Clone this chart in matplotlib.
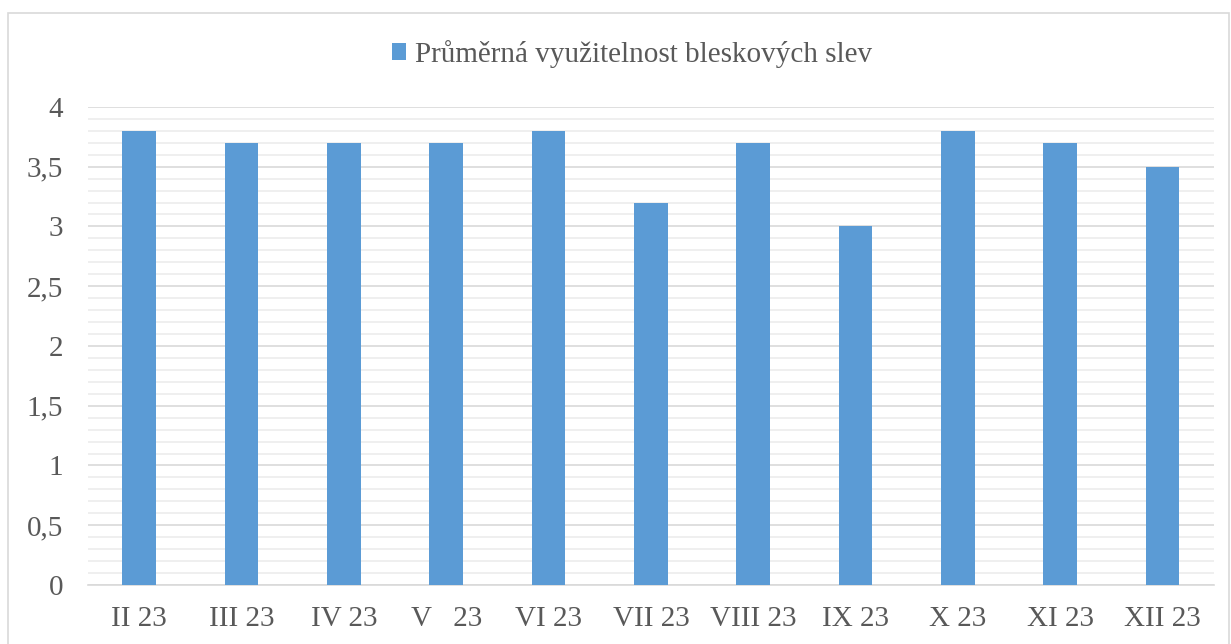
import matplotlib.pyplot as plt
from matplotlib.patches import Rectangle
from matplotlib.ticker import MultipleLocator, FuncFormatter

months = ['II 23', 'III 23', 'IV 23', 'V   23', 'VI 23', 'VII 23', 'VIII 23',
          'IX 23', 'X 23', 'XI 23', 'XII 23']
usage = [3.8, 3.7, 3.7, 3.7, 3.8, 3.2, 3.7, 3.0, 3.8, 3.7, 3.5]
series_name = 'Průměrná využitelnost bleskových slev'

plt.rcParams['font.family'] = ['Liberation Serif', 'DejaVu Serif']
text_grey = '#595959'
bar_blue = '#5b9bd5'

fig = plt.figure(figsize=(12.31, 6.44), dpi=100)
ax = fig.add_axes([0.0715, 0.0916, 0.9145, 0.7424])

# outer chart frame (bottom edge is off the picture)
fig.patches.append(Rectangle((8 / 1231, -0.05), (1229 - 8) / 1231, 1.05 - 13 / 644,
                             transform=fig.transFigure, fill=False,
                             edgecolor='#d9d9d9', linewidth=1.2))

x = range(len(months))
ax.bar(x, usage, width=0.33, color=bar_blue, label=series_name, zorder=3)

ax.set_xlim(-0.5, len(months) - 0.5)
ax.set_ylim(0, 4)
ax.yaxis.set_major_locator(MultipleLocator(0.5))
ax.yaxis.set_minor_locator(MultipleLocator(0.1))
ax.yaxis.set_major_formatter(FuncFormatter(lambda v, p: f'{v:g}'.replace('.', ',')))
ax.grid(axis='y', which='major', color='#d9d9d9', linewidth=1.2, zorder=0)
ax.grid(axis='y', which='minor', color='#ececec', linewidth=1.2, zorder=0)

ax.set_xticks(list(x))
ax.set_xticklabels(months)
ax.tick_params(axis='both', which='both', length=0, labelsize=21, colors=text_grey)
ax.tick_params(axis='x', pad=15)
ax.tick_params(axis='y', pad=18)

for s in ['top', 'right', 'left']:
    ax.spines[s].set_visible(False)
ax.spines['bottom'].set_color('#d9d9d9')
ax.spines['bottom'].set_linewidth(1.2)

leg = fig.legend(loc='center', bbox_to_anchor=(632 / 1231, 1 - 54 / 644), frameon=False,
                 fontsize=21, handlelength=0.5, handleheight=0.55, handletextpad=0.3)
for t in leg.get_texts():
    t.set_color(text_grey)

fig.savefig('out.png', dpi=100)
